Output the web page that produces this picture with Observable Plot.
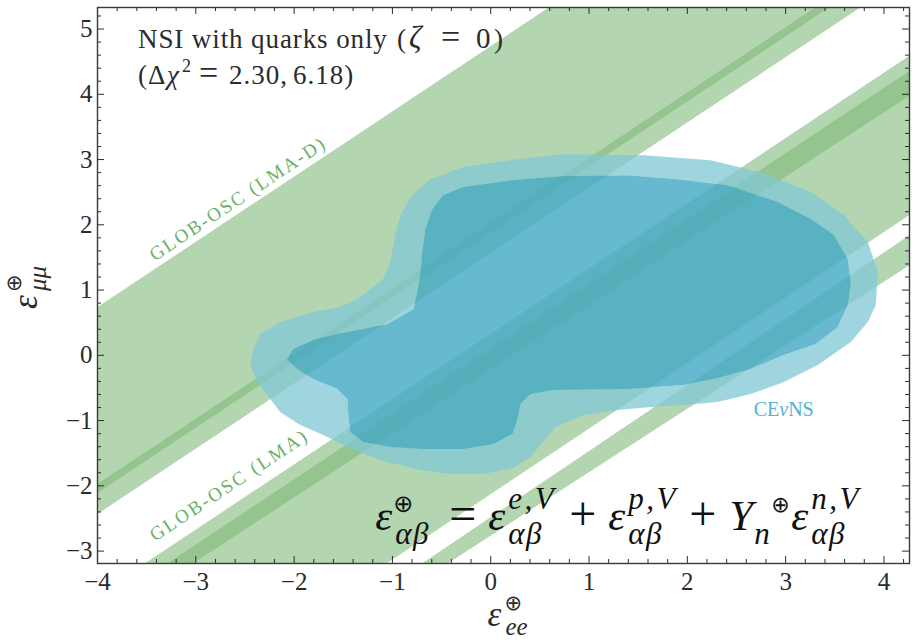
<!DOCTYPE html>
<html>
<head>
<meta charset="utf-8">
<script src="https://cdn.jsdelivr.net/npm/d3@7"></script>
<script src="https://cdn.jsdelivr.net/npm/@observablehq/plot@0.6"></script>
<style>
  html, body { margin: 0; padding: 0; background: #fff; }
  svg { display: block; }
  svg text { font-family: "Liberation Serif", "Times New Roman", serif !important; }
  svg tspan.sym { font-family: "DejaVu Sans", sans-serif !important; }
</style>
</head>
<body>
<script>
// Axis ticks
const xTicks = [-4, -3, -2, -1, 0, 1, 2, 3, 4];
const yTicks = [-3, -2, -1, 0, 1, 2, 3, 4, 5];
const xMinor = d3.range(-40, 43, 2).map(d => d / 10).filter(d => !Number.isInteger(d));
const yMinor = d3.range(-30, 54, 2).map(d => d / 10).filter(d => !Number.isInteger(d));

// GLOB-OSC allowed bands in the (ε_ee, ε_μμ) plane, polygon vertices on the frame
const lmaD2 = [[-4.00, 0.74], [0.59, 5.33], [3.76, 5.33], [-4.00, -2.43]];
const lmaD1 = [[-4.00, -1.97], [3.30, 5.33], [3.44, 5.33], [-4.00, -2.11]];
const lma2 = [[-3.52, -3.19], [4.26, 4.59], [4.26, 2.15], [-1.06, -3.19]];
const lma1 = [[-3.29, -3.19], [4.26, 4.36], [4.26, 3.98], [-3.03, -3.19]];
const lma2b = [[-0.70, -3.19], [4.26, 1.84], [4.26, 1.38], [-0.44, -3.19]];

// CEvNS allowed regions: Δχ² = 6.18 (outer) and Δχ² = 2.30 (inner)
const cevnsOuter = [
  [-2.447, -0.149], [-2.416, 0.096], [-2.345, 0.326], [-2.142, 0.510], [-1.806, 0.663],
  [-1.531, 0.740], [-1.358, 0.862], [-1.225, 1.015], [-1.093, 1.168], [-1.021, 1.429],
  [-0.970, 1.842], [-0.920, 2.149], [-0.797, 2.455], [-0.614, 2.700], [-0.278, 2.884],
  [0.272, 3.006], [0.710, 3.083], [1.555, 3.067], [2.237, 2.991], [2.746, 2.807],
  [3.256, 2.501], [3.592, 2.149], [3.836, 1.735], [3.938, 1.276], [3.918, 0.771],
  [3.836, 0.511], [3.663, 0.204], [3.327, -0.148], [2.981, -0.409], [2.645, -0.592],
  [2.309, -0.715], [1.963, -0.761], [1.627, -0.792], [1.290, -0.838], [0.944, -0.913],
  [0.659, -1.098], [0.557, -1.283], [0.404, -1.558], [0.231, -1.727], [-0.074, -1.819],
  [-0.410, -1.819], [-0.716, -1.757], [-1.124, -1.608], [-1.429, -1.421], [-1.704, -1.221],
  [-1.938, -1.068], [-2.142, -0.868], [-2.274, -0.608], [-2.376, -0.409]
];
const cevnsInner = [
  [-2.071, -0.057], [-2.010, 0.096], [-1.806, 0.234], [-1.561, 0.326], [-1.297, 0.403],
  [-1.052, 0.479], [-0.787, 0.709], [-0.746, 0.969], [-0.716, 1.230], [-0.696, 1.582],
  [-0.665, 1.934], [-0.594, 2.240], [-0.482, 2.455], [-0.278, 2.578], [0.231, 2.685],
  [0.710, 2.746], [1.392, 2.761], [1.902, 2.700], [2.411, 2.608], [2.920, 2.348],
  [3.256, 2.088], [3.490, 1.842], [3.633, 1.475], [3.663, 1.123], [3.633, 0.771],
  [3.531, 0.434], [3.307, 0.173], [2.981, 0.005], [2.645, -0.209], [2.309, -0.347],
  [1.963, -0.454], [1.392, -0.515], [0.638, -0.531], [0.404, -0.592], [0.302, -0.746],
  [0.272, -0.975], [0.221, -1.205], [0.027, -1.358], [-0.278, -1.435], [-0.685, -1.435],
  [-1.021, -1.404], [-1.297, -1.328], [-1.429, -1.174], [-1.449, -0.914], [-1.459, -0.669],
  [-1.561, -0.515], [-1.806, -0.362], [-1.969, -0.209]
];

const closeRing = r => [...r, r[0]];
const polygon = (...rings) => ({type: "Polygon", coordinates: rings.map(closeRing)});

const W = 912, H = 642, mT = 7, mB = 79, mL = 97, mR = 3;
const frameH = H - mT - mB, frameW = W - mL - mR;
const serif = "Liberation Serif";
const serifStack = '"Liberation Serif", "Times New Roman", serif';
const symStack = '"DejaVu Sans", sans-serif';
const ink = "#2b2b2b";
const green2 = "#b3d6b0", green1 = "#95c58e", greenText = "#6cb068";
const blueText = "#52b2cf";
const minus = d => String(d).replace("-", "\u2212");

const titleText = "NSI with quarks only (ζ = 0)";
const subtitleText = "(Δχ² = 2.30, 6.18)";
const eqText = "ε⊕αβ = εe,Vαβ + εp,Vαβ + Y⊕n εn,Vαβ";
const xLabelText = "ε⊕ee";
const yLabelText = "ε⊕μμ";
const cevnsText = "CEνNS";

const chart = Plot.plot({
  width: W, height: H,
  marginTop: mT, marginBottom: mB, marginLeft: mL, marginRight: mR,
  x: {domain: [-4, 4.26], axis: null},
  y: {domain: [-3.19, 5.33], axis: null},
  style: {background: "#fff", color: ink, fontFamily: serifStack},
  marks: [
    Plot.geo(polygon(lmaD2), {fill: green2, clip: true}),
    Plot.geo(polygon(lmaD1), {fill: green1, clip: true}),
    Plot.geo(polygon(lma2), {fill: green2, clip: true}),
    Plot.geo(polygon(lma1), {fill: green1, clip: true}),
    Plot.geo(polygon(lma2b), {fill: green2, clip: true}),
    // outer contour drawn as a ring around the inner one
    Plot.geo(polygon(cevnsOuter, [...cevnsInner].reverse()), {fill: "rgb(129,200,213)", fillOpacity: 0.76, clip: true}),
    Plot.geo(polygon(cevnsInner), {fill: "rgb(70,170,197)", fillOpacity: 0.82, clip: true}),

    Plot.text(["GLOB-OSC (LMA-D)"], {x: -2.58, y: 2.39, rotate: -33.6, fontSize: 19, fontFamily: serif, fill: greenText}),
    Plot.text(["GLOB-OSC (LMA)"], {x: -2.67, y: -2.0, rotate: -33.6, fontSize: 19, fontFamily: serif, fill: greenText}),
    Plot.text([cevnsText], {x: 2.675, y: -0.93, textAnchor: "start", fontSize: 20, fontFamily: serif, fill: blueText}),
    Plot.text([titleText], {x: -3.588, y: 4.706, textAnchor: "start", fontSize: 27, fontFamily: serif, fill: ink}),
    Plot.text([subtitleText], {x: -3.588, y: 4.155, textAnchor: "start", fontSize: 27, fontFamily: serif, fill: ink}),
    Plot.text([eqText], {x: -1.174, y: -2.675, textAnchor: "start", fontSize: 43, fontFamily: serif, fill: "#111"}),
    Plot.text([xLabelText], {x: -0.034, y: -4.15, textAnchor: "start", fontSize: 35, fontFamily: serif, fill: ink}),
    Plot.text([yLabelText], {x: -4.616, y: 0.709, rotate: -90, textAnchor: "start", fontSize: 35, fontFamily: serif, fill: ink}),

    // inward ticks on all four sides
    Plot.tickX(xTicks, {x: d => d, stroke: ink, insetTop: frameH - 7}),
    Plot.tickX(xTicks, {x: d => d, stroke: ink, insetBottom: frameH - 7}),
    Plot.tickX(xMinor, {x: d => d, stroke: ink, insetTop: frameH - 4}),
    Plot.tickX(xMinor, {x: d => d, stroke: ink, insetBottom: frameH - 4}),
    Plot.tickY(yTicks, {y: d => d, stroke: ink, insetRight: frameW - 7}),
    Plot.tickY(yTicks, {y: d => d, stroke: ink, insetLeft: frameW - 7}),
    Plot.tickY(yMinor, {y: d => d, stroke: ink, insetRight: frameW - 4}),
    Plot.tickY(yMinor, {y: d => d, stroke: ink, insetLeft: frameW - 4}),
    Plot.frame({stroke: "#3a3a3a", strokeWidth: 1.4}),
    Plot.axisX(xTicks, {anchor: "bottom", tickSize: 0, tickPadding: 9, fontSize: 25, fontFamily: serif, fill: ink, tickFormat: minus, label: null}),
    Plot.axisY(yTicks, {anchor: "left", tickSize: 0, tickPadding: 5, fontSize: 25, fontFamily: serif, fill: ink, tickFormat: minus, label: null})
  ]
});
document.body.appendChild(chart);

// Typeset labels with italics, superscripts and subscripts.
// "at" places a piece at a fixed offset from the label's anchor, "gap" after the previous piece.
const P = (t, o = {}) => ({t, ...o});
const sub = {it: 1, size: 31, ls: 1.5, rise: -14};
const sup = {it: 1, size: 31, ls: 2.5, rise: 21};
const oplus = {size: 24, sym: 1, rise: 18};
const rich = new Map([
  [titleText, [P("NSI with quarks only", {ls: 0.9}), P("(", {at: 259}), P("ζ", {it: 1, at: 271, size: 31}),
               P("=", {at: 303, size: 34}), P("0", {at: 338, size: 29}), P(")", {at: 356})]],
  [subtitleText, [P("(", {at: 0}), P("Δ", {at: 10}), P("χ", {it: 1, at: 29}), P("2", {size: 18, rise: 12, at: 44}),
                  P("=", {at: 61, size: 34}), P("2.30,", {at: 91, ls: 1}), P("6.18)", {at: 155, ls: 1})]],
  [eqText, [
    P("ε", {it: 1, at: 0}), P("⊕", {...oplus, at: 18}), P("αβ", {...sub, at: 20}),
    P("=", {at: 74, size: 48}),
    P("ε", {it: 1, at: 113}), P("e,V", {...sup, at: 133}), P("αβ", {...sub, at: 133}),
    P("+", {at: 194, size: 48}),
    P("ε", {it: 1, at: 233}), P("p,V", {...sup, at: 253}), P("αβ", {...sub, at: 253}),
    P("+", {at: 314, size: 48}),
    P("Y", {it: 1, at: 354}), P("n", {...sub, ls: 0, at: 379}), P("⊕", {...oplus, size: 22, at: 396}),
    P("ε", {it: 1, at: 416}), P("n,V", {...sup, at: 436}), P("αβ", {...sub, at: 436})
  ]],
  [xLabelText, [P("ε", {it: 1, at: 0}), P("⊕", {size: 21, sym: 1, rise: 16, at: 17}), P("ee", {it: 1, size: 25, rise: -9, at: 18})]],
  [yLabelText, [P("ε", {it: 1, at: 0}), P("⊕", {size: 21, sym: 1, rise: 16, at: 17}), P("μμ", {it: 1, size: 25, rise: -9, at: 18})]],
  [cevnsText, [P("CE", {at: 0}), P("ν", {it: 1, gap: 0}), P("NS", {gap: 0})]]
]);
const stretch = new Map([["GLOB-OSC (LMA-D)", 206], ["GLOB-OSC (LMA)", 184]]);

const NS = "http://www.w3.org/2000/svg";
for (const el of chart.querySelectorAll("text")) {
  el.style.fontFamily = serifStack;
  const key = el.textContent;
  if (stretch.has(key)) {
    el.setAttribute("textLength", stretch.get(key));
    el.setAttribute("lengthAdjust", "spacing");
    continue;
  }
  const pieces = rich.get(key);
  if (!pieces) continue;
  el.removeAttribute("dy"); el.removeAttribute("x"); el.removeAttribute("y");
  el.setAttribute("text-anchor", "start");
  el.textContent = "";
  let cx = 0;
  for (const p of pieces) {
    const t = document.createElementNS(NS, "tspan");
    t.textContent = p.t;
    if (p.size) t.setAttribute("font-size", p.size);
    if (p.it) t.setAttribute("font-style", "italic");
    if (p.sym) { t.setAttribute("class", "sym"); t.style.fontFamily = symStack; }
    if (p.ls) t.setAttribute("letter-spacing", p.ls);
    el.appendChild(t);
    const x0 = p.at != null ? p.at : cx + (p.gap || 0);
    t.setAttribute("x", x0);
    t.setAttribute("y", -(p.rise || 0));
    cx = x0 + t.getComputedTextLength();
  }
}
</script>
</body>
</html>
